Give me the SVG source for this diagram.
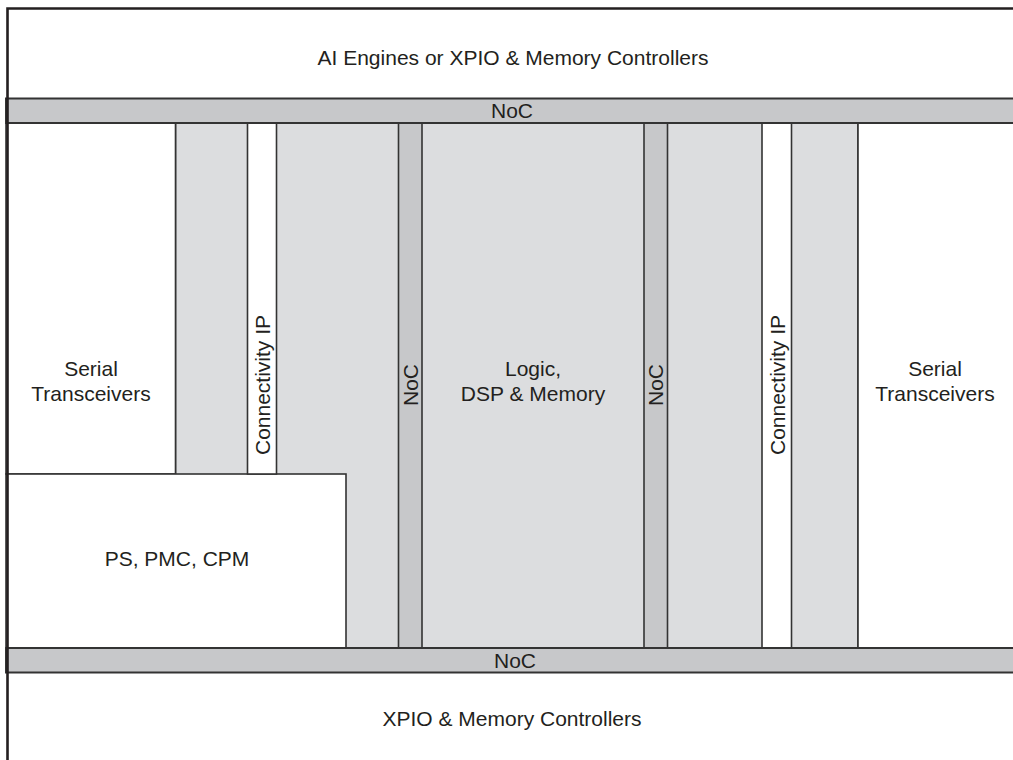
<svg xmlns="http://www.w3.org/2000/svg" width="1013" height="760" viewBox="0 0 1013 760">
<style>
.t{font-family:"Liberation Sans",Arial,sans-serif;font-size:21px;fill:#231f20;text-anchor:middle}
.w{fill:#ffffff;stroke:#333;stroke-width:1.6}
.g{fill:#dcdddf;stroke:#333;stroke-width:1.6}
.n{fill:#c7c8ca;stroke:#333;stroke-width:1.6}
.b{fill:#c7c8ca;stroke:#333;stroke-width:2}
.f{stroke:#231f20;stroke-width:2.6;fill:none}
</style>
<rect x="0" y="0" width="1013" height="760" fill="#ffffff"/>
<g id="fabric">
<rect class="g" x="175.5" y="123" width="682.5" height="525"/>
</g>
<g id="ai-engines">
<rect x="7" y="8" width="1008" height="90" fill="#ffffff"/>
<text class="t" x="513" y="64.5">AI Engines or XPIO &amp; Memory Controllers</text>
</g>
<g id="serial-left">
<rect class="w" x="6" y="123" width="169.5" height="351"/>
<text class="t" x="91" y="376">Serial</text>
<text class="t" x="91" y="401">Transceivers</text>
</g>
<g id="ps-pmc-cpm">
<rect class="w" x="6" y="474" width="340" height="174"/>
<text class="t" x="177" y="565.5">PS, PMC, CPM</text>
</g>
<g id="connectivity-left">
<rect class="w" x="247.5" y="123" width="29" height="351"/>
<text class="t" x="262" y="385" transform="rotate(-90 262 385) translate(0 7.5)">Connectivity IP</text>
</g>
<g id="noc-vert-left">
<rect class="n" x="398.5" y="123" width="23.5" height="525"/>
<text class="t" x="410" y="385" transform="rotate(-90 410 385) translate(0 7.5)">NoC</text>
</g>
<g id="logic">
<text class="t" x="533" y="376">Logic,</text>
<text class="t" x="533" y="401">DSP &amp; Memory</text>
</g>
<g id="noc-vert-right">
<rect class="n" x="644" y="123" width="23.5" height="525"/>
<text class="t" x="655.5" y="385" transform="rotate(-90 655.5 385) translate(0 7.5)">NoC</text>
</g>
<g id="connectivity-right">
<rect class="w" x="762" y="123" width="29.5" height="525"/>
<text class="t" x="777" y="385" transform="rotate(-90 777 385) translate(0 7.5)">Connectivity IP</text>
</g>
<g id="serial-right">
<rect class="w" x="858" y="123" width="160" height="525"/>
<text class="t" x="935" y="376">Serial</text>
<text class="t" x="935" y="401">Transceivers</text>
</g>
<g id="noc-top">
<rect class="b" x="6" y="98.5" width="1012" height="24.5"/>
<text class="t" x="512" y="118">NoC</text>
</g>
<g id="noc-bottom">
<rect class="b" x="6" y="648" width="1012" height="24.5"/>
<text class="t" x="515" y="667.5">NoC</text>
</g>
<g id="xpio-bottom">
<text class="t" x="512" y="725.5">XPIO &amp; Memory Controllers</text>
</g>
<g id="frame">
<path class="f" d="M7.5 762 V8.5 H1015"/>
</g>
</svg>
